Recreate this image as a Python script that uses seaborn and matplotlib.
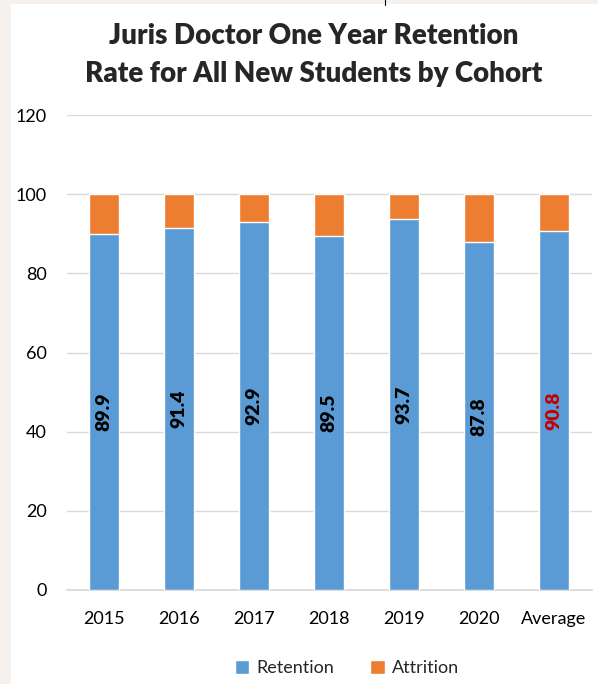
"""Stacked bar chart: JD one-year retention by cohort."""

import pandas as pd
import matplotlib
matplotlib.use("Agg")
import matplotlib.pyplot as plt
from matplotlib.patches import Patch, Rectangle
import seaborn as sns

cohorts = ["2015", "2016", "2017", "2018", "2019", "2020", "Average"]
retention = [89.9, 91.4, 92.9, 89.5, 93.7, 87.8, 90.8]
attrition = [10.1, 8.6, 7.1, 10.5, 6.3, 12.2, 9.2]
label_colors = ["black", "black", "black", "black", "black", "black", "#c00000"]

BLUE = "#5b9bd5"
ORANGE = "#ed7d31"

df = pd.DataFrame({"cohort": cohorts, "retention": retention, "attrition": attrition})
df["total"] = df["retention"] + df["attrition"]

sns.set_theme(style="white")
plt.rcParams["font.family"] = ["Lato", "DejaVu Sans"]

fig = plt.figure(figsize=(5.98, 6.84), dpi=100)
fig.patch.set_facecolor("white")
# beige page margins of the original screenshot
fig.patches.append(Rectangle((0, 0), 10.5 / 598, 1, transform=fig.transFigure,
                             facecolor="#f6f1ec", edgecolor="none", zorder=0))
fig.patches.append(Rectangle((0, 1 - 3.5 / 684), 1, 3.5 / 684, transform=fig.transFigure,
                             facecolor="#f6f1ec", edgecolor="none", zorder=0))
fig.lines.append(plt.Line2D([385 / 598, 385 / 598], [1, 1 - 5 / 684], transform=fig.transFigure,
                            color="black", linewidth=0.8))

ax = fig.add_axes([66.5 / 598, 1 - 590 / 684, 525 / 598, 475 / 684])

# stack: total (orange) underneath, retention (blue) on top
sns.barplot(data=df, x="cohort", y="total", color=ORANGE, saturation=1,
            width=0.4, ax=ax, zorder=2)
sns.barplot(data=df, x="cohort", y="retention", color=BLUE, saturation=1,
            width=0.4, ax=ax, zorder=3)

for i, (val, col) in enumerate(zip(retention, label_colors)):
    ax.text(i, val / 2, f"{val:.1f}", rotation=90, ha="center", va="center",
            fontsize=14, fontweight="heavy", color=col, zorder=4)

ax.set_ylim(0, 120)
ax.set_yticks(range(0, 121, 20))
ax.set_xlim(-0.5, len(cohorts) - 0.5)
ax.yaxis.grid(True, color="#d9d9d9", linewidth=1)
ax.set_axisbelow(True)
for s in ["top", "right", "left"]:
    ax.spines[s].set_visible(False)
ax.spines["bottom"].set_color("#d9d9d9")
ax.tick_params(axis="both", length=0, labelsize=13, colors="black")
ax.tick_params(axis="x", pad=15)
ax.tick_params(axis="y", pad=14)
ax.set_xlabel("")
ax.set_ylabel("")

fig.text(314 / 598, 1 - 55 / 684,
         "Juris Doctor One Year Retention\nRate for All New Students by Cohort",
         ha="center", va="center", fontsize=20, fontweight="heavy", linespacing=1.55)

handles = [Patch(facecolor=BLUE, label="Retention"), Patch(facecolor=ORANGE, label="Attrition")]
fig.legend(handles=handles, loc="center", bbox_to_anchor=(347 / 598, 1 - 668 / 684),
           ncol=2, frameon=False, fontsize=13, handlelength=0.8, handleheight=0.8,
           handletextpad=0.4, columnspacing=2.0)

plt.savefig("out.png", dpi=100)
